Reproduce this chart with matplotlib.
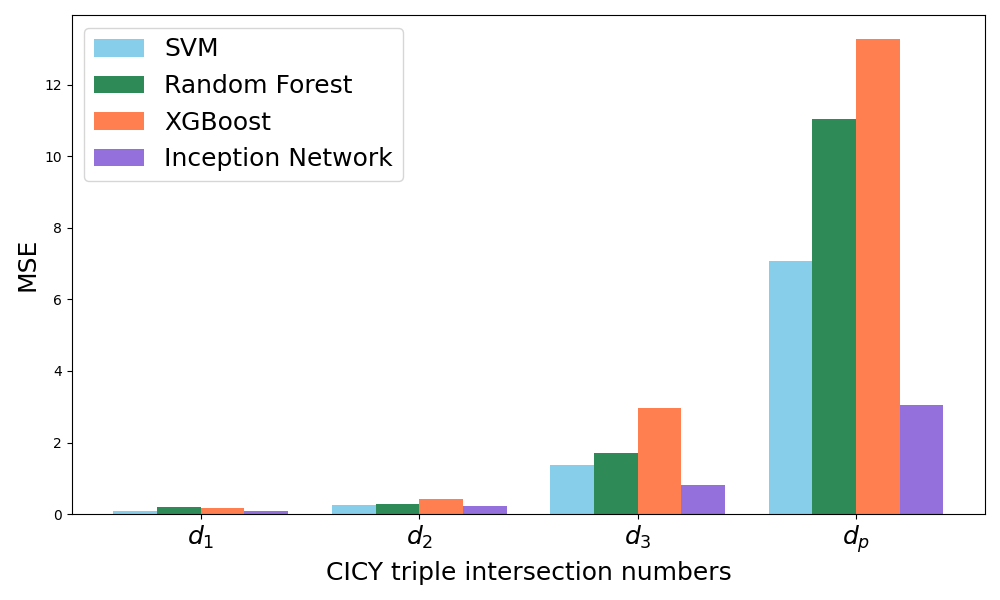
import numpy as np
import matplotlib
matplotlib.use("Agg")
import matplotlib.pyplot as plt

# ------------------------------------------------------------------
# DATA
# ------------------------------------------------------------------
categories = [r"$d_1$", r"$d_2$", r"$d_3$", r"$d_p$"]
models = ["SVM", "Random Forest", "XGBoost", "Inception Network"]
colors = ["skyblue", "seagreen", "coral", "mediumpurple"]

svm = [0.08, 0.26, 1.37, 7.08]
random_forest = [0.20, 0.28, 1.71, 11.05]
xgboost = [0.17, 0.42, 2.97, 13.29]
inception = [0.08, 0.22, 0.81, 3.05]

# ------------------------------------------------------------------
# PLOT
# ------------------------------------------------------------------
fig, ax = plt.subplots(figsize=(10, 6), dpi=100)

x = np.arange(len(categories))
width = 0.2
series = [svm, random_forest, xgboost, inception]

for i, (vals, name, c) in enumerate(zip(series, models, colors)):
    ax.bar(x + (i - 1.5) * width, vals, width, label=name, color=c)

ax.set_xticks(x)
ax.set_xticklabels(categories, fontsize=18)
ax.set_xlabel("CICY triple intersection numbers", fontsize=18)
ax.set_ylabel("MSE", fontsize=18)
ax.legend(fontsize=18, loc="upper left")

plt.tight_layout()
plt.savefig("out.png")
